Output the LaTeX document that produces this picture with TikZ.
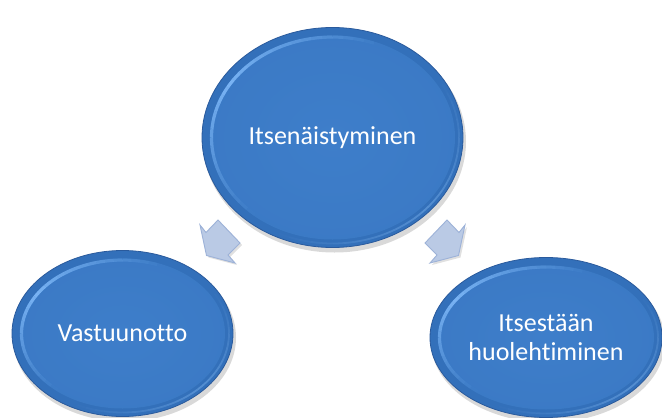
\documentclass[tikz,border=0pt]{standalone}
\usepackage{fontspec}
\setmainfont{Carlito}[Ligatures={NoCommon}]
\usetikzlibrary{shapes.geometric}
\definecolor{bandc}{HTML}{3370BA}
\definecolor{bandedge}{HTML}{2A5A9C}
\definecolor{inA}{HTML}{3E7ECA}
\definecolor{inB}{HTML}{3A78C3}
\definecolor{inC}{HTML}{3471BB}
\definecolor{hlc}{HTML}{7CB6F6}
\definecolor{streak}{HTML}{5E97D8}
\definecolor{arrfill}{HTML}{BACAE5}
\definecolor{arredge}{HTML}{9DB2D8}
\pgfdeclareradialshading{orbin}{\pgfpoint{0bp}{0bp}}{color(0bp)=(inA); color(38bp)=(inB); color(50bp)=(inC)}
\tikzset{
  orbtext/.style={ellipse, inner sep=0pt, text=white, align=center,
    font=\fontsize{26}{29}\selectfont},
  orbshadow/.style={fill=black, opacity=0.15},
  orbband/.style={fill=bandc, draw=bandedge, line width=0.8pt},
  orbinner/.style={shading=orbin},
  orbhl/.style={draw=hlc, line width=3.2pt, line cap=butt},
  orbstreak/.style={draw=streak, line width=1.8pt, line cap=butt},
  blockarrow/.style={fill=arrfill, draw=arredge, line width=0.9pt, line join=miter},
  arrshadow/.style={fill=black, opacity=0.12},
}
\newcommand\glossyorb[6]{%
  \pgfmathsetmacro\rxh{#4-9.5}\pgfmathsetmacro\ryh{#5-9.5}%
  \pgfmathsetmacro\rxs{#4-4}\pgfmathsetmacro\rys{#5-4}%
  \fill[orbshadow] (#2+2,#3+4) ellipse [x radius=#4+1, y radius=#5+1];
  \draw[orbband] (#2,#3) ellipse [x radius=#4, y radius=#5];
  \foreach \a in {-30,-25,...,115} {
    \pgfmathsetmacro\op{max(0,1-abs(\a+2.5-42)/75)*0.8}
    \draw[orbstreak, opacity=\op] ({#2+\rxs*cos(\a)},{#3+\rys*sin(\a)})
      arc[start angle=\a, end angle=\a+5, x radius=\rxs, y radius=\rys];
  }
  \shade[orbinner] (#2,#3) ellipse [x radius=#4-8, y radius=#5-8];
  \foreach \a in {130,135,...,295} {
    \pgfmathsetmacro\op{max(0,1-abs(\a+2.5-212)/82)*0.95}
    \draw[orbhl, opacity=\op] ({#2+\rxh*cos(\a)},{#3+\ryh*sin(\a)})
      arc[start angle=\a, end angle=\a+5, x radius=\rxh, y radius=\ryh];
  }
  \node[orbtext, minimum width=2*#4 pt, minimum height=2*#5 pt] (#1) at (#2,#3) {#6};
}
\begin{document}
\begin{tikzpicture}[x=1pt, y=-1pt]
\useasboundingbox (0,0) rectangle (662,418);
\fill[white] (0,0) rectangle (662,418);
% arrows
\fill[arrshadow] (220,222) -- (208,234.5) -- (202,227) -- (208.5,257.5) -- (237,265) -- (230,257) -- (242,245) -- cycle;
\draw[blockarrow] (218,220) -- (206,232.5) -- (200,225) -- (206.5,255.5) -- (235,263) -- (228,255) -- (240,243) -- cycle;
\fill[arrshadow] (449,222) -- (461,234.5) -- (467,227) -- (460.5,257.5) -- (432,265) -- (439,257) -- (427,245) -- cycle;
\draw[blockarrow] (447,220) -- (459,232.5) -- (465,225) -- (458.5,255.5) -- (430,263) -- (437,255) -- (425,243) -- cycle;
% orbs
\glossyorb{top}{332.5}{137.5}{130.5}{110}{Itsenäistyminen}
\glossyorb{left}{122.5}{333.5}{110.5}{83}{Vastuunotto}
\glossyorb{right}{546}{337.5}{116}{80}{Itsestään\\huolehtiminen}
\end{tikzpicture}
\end{document}
